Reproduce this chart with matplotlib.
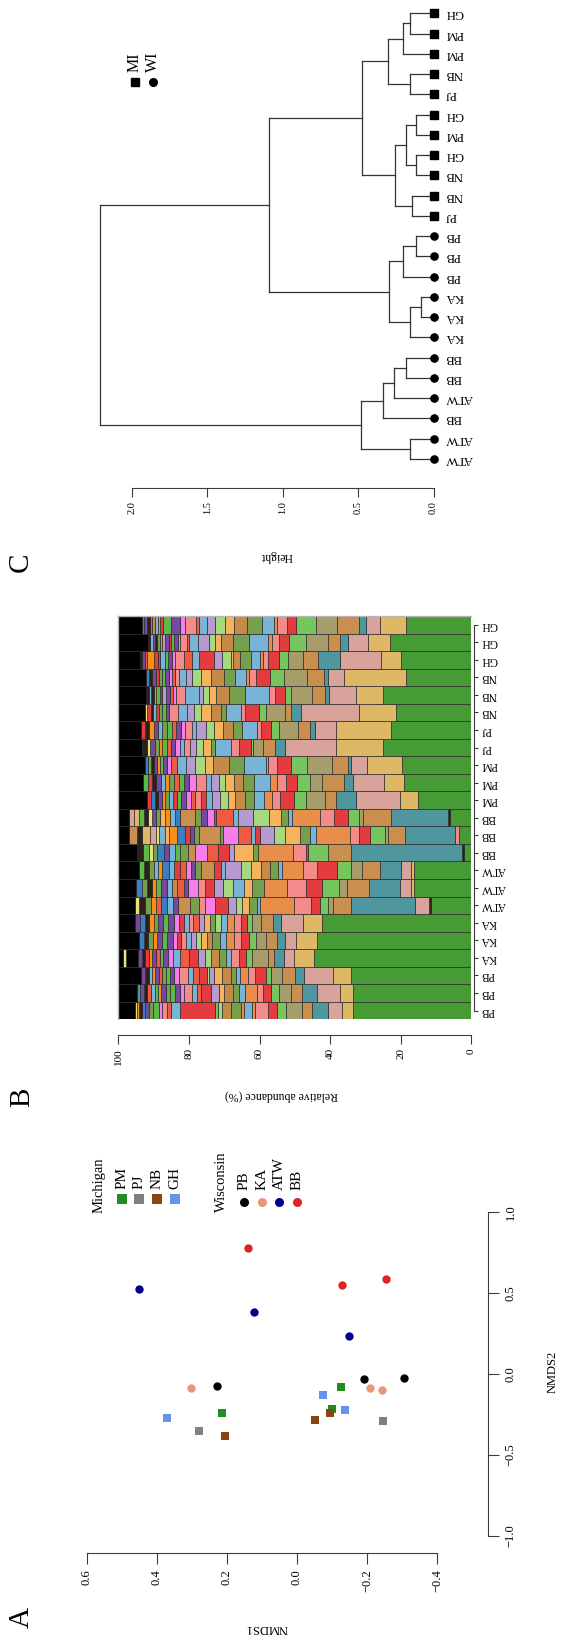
import matplotlib
matplotlib.use('Agg')
import matplotlib.pyplot as plt

plt.rcParams['font.family'] = ['Liberation Serif', 'DejaVu Serif']

# ---------------- data ----------------
# Panel A: NMDS ordination
site_names_mi = ['PM', 'PJ', 'NB', 'GH']
site_names_wi = ['PB', 'KA', 'ATW', 'BB']
site_colors = {'PM': '#228b22', 'PJ': '#808080', 'NB': '#8b4513', 'GH': '#6495ed',
               'PB': '#000000', 'KA': '#e9967a', 'ATW': '#00008b', 'BB': '#dc2424'}
nmds_site = ['PB', 'PB', 'PB', 'KA', 'KA', 'KA', 'ATW', 'ATW', 'ATW', 'BB', 'BB', 'BB',
             'PM', 'PM', 'PM', 'PJ', 'PJ', 'NB', 'NB', 'NB', 'GH', 'GH', 'GH']
nmds1 = [0.230, -0.191, -0.306, 0.302, -0.209, -0.243, 0.452, 0.123, -0.149,
         0.140, -0.128, -0.255, -0.126, 0.214, -0.099, 0.280, -0.245,
         0.207, -0.051, -0.094, 0.371, -0.073, -0.136]
nmds2 = [-0.072, -0.031, -0.023, -0.088, -0.088, -0.101, 0.524, 0.382, 0.236,
         0.778, 0.552, 0.589, -0.082, -0.240, -0.216, -0.353, -0.292,
         -0.380, -0.287, -0.242, -0.271, -0.131, -0.220]

# Panel B: relative abundance, bars from left (PB) to right (GH) of the original
bar_labels = ['PB', 'PB', 'PB', 'KA', 'KA', 'KA', 'ATW', 'ATW', 'ATW', 'BB', 'BB', 'BB',
              'PM', 'PM', 'PM', 'PJ', 'PJ', 'NB', 'NB', 'NB', 'GH', 'GH', 'GH']
taxon_colors = {'G': '#479b35', 'T': '#dfb865', 'R': '#d7a39b', 'Q': '#4f969f',
                'B': '#c88f4e', 'K': '#a69d6b', 'L': '#77c55f', 'r': '#e43c3e',
                's': '#f38b8a', 'o': '#e98e4a', 'b': '#77b4d8', 'v': '#77a04e',
                'n': '#c68a48', 'y': '#f7b25c', 'l': '#a6d880', 'p': '#b59bcf',
                'e': '#ec5b42', 'm': '#f77dea', 'u': '#7649a0', 'g': '#5db84a',
                'O': '#f98f17', 'd': '#3a80c0', 'x': '#2b2118', 'w': '#e9e27c',
                'k': '#000000'}
bar_taxa = [
    'G T R Q B K L r s o b o v n l L r b e s m g v u d x O w',
    'G T R Q B K L r s o b v n y p r e b s m u g v u O g b e x u Q',
    'G T R Q B K L r s o b v n y p l r e b s m u g v e u O b x u',
    'G T R Q B K L r s b v n l p r e b m u g e u O r x u k w',
    'G T R Q B K L r s o b v n y l p b s r m u g u O v x d',
    'G T R Q B K L r s o b l v y p e s b r m u g u v O x d u',
    'G x R Q B K L r s o b v y l p r m s v B u b d e O v x w',
    'G T R Q B K L r s o v y b l p r s m u e n b u g O x v d',
    'G T R Q B K L r s o b v n y l p b r B v u m e r b d O b v x g',
    'G x Q B L r s o v y p r e m B v g b u d v w g x',
    'G s Q B K L r s o b v y l p r b e m v B v u r d O y b w R T x B',
    'G x Q B K L r s o b v y l p b e r m u v B d b O y v u w x g T R',
    'G T R Q B K L r s o b v n y l p b r s e m u g r b v O u x d r',
    'G T R Q B K L r s o b v n y l p b s m u g e v O b u x r g',
    'G T R Q B K L r s o b v n y l p b e m u g O u x v d',
    'G T R Q B K L r s b v y l p s b m u e g O v u w x',
    'G T R Q B K L r s b v n y l p b s m u e g v b u O x r',
    'G T R Q B K L r s b v n y l p b s u g v r b x r w',
    'G T R Q B K L r s b v n y l p b s m e u p u g O x b x',
    'G T R Q B K L r s o b v n y l p b s e m u g v r u x d',
    'G T R Q B K L r s o b v n y l p r b e s m u g b d r O e u x',
    'G T R Q B K L r s o b v n y l p b e s m u g r u p O v x u b x',
    'G T R Q B K L r s o b v n y l p b e s m u g r O b n e x u d',
]
bar_values = [
    [33.5, 3.1, 4.0, 4.5, 3.0, 4.5, 2.4, 2.7, 3.6, 0.9, 2.2, 0.9, 2.9, 2.5, 1.1, 0.9, 9.7, 2.7,
     1.2, 1.3, 1.0, 1.6, 1.2, 1.0, 0.9, 0.8, 0.7, 0.6],
    [33.5, 3.6, 6.5, 4.5, 3.0, 3.5, 2.2, 2.1, 1.9, 3.4, 1.6, 1.8, 2.4, 1.6, 2.2, 2.7, 1.3, 1.4, 2.2,
     1.2, 1.4, 1.3, 1.1, 1.5, 0.8, 1.0, 1.1, 1.0, 0.9, 1.2, 0.8],
    [34.1, 5.0, 8.3, 2.5, 3.6, 3.3, 1.5, 3.0, 2.0, 2.2, 1.2, 1.3, 2.5, 2.4, 1.3, 0.8, 2.2, 1.6, 1.4,
     2.6, 1.4, 1.2, 1.1, 1.0, 0.9, 1.2, 0.8, 1.0, 0.9, 1.2],
    [44.7, 5.4, 2.9, 2.9, 1.8, 4.5, 1.6, 2.0, 2.2, 1.4, 2.0, 2.2, 1.8, 2.0, 2.7, 2.4, 2.1,
     1.2, 1.4, 1.1, 1.0, 1.2, 0.9, 1.1, 0.8, 1.0, 3.6, 0.9],
    [43.8, 5.8, 3.2, 2.2, 3.1, 2.9, 2.1, 2.0, 2.0, 2.3, 1.8, 2.2, 1.6, 1.5,
     1.4, 1.6, 1.3, 1.4, 1.2, 1.1, 1.8, 1.3, 1.4, 1.2, 1.3, 1.2, 1.5],
    [42.2, 5.6, 6.1, 2.4, 3.2, 2.7, 1.3, 1.8, 1.8, 2.0, 1.8, 1.6, 1.6, 1.5,
     1.6, 1.5, 1.4, 1.2, 1.5, 1.3, 1.8, 1.3, 1.6, 1.2, 1.3, 1.1, 1.4, 1.6],
    [11.3, 0.6, 4.1, 18.2, 5.1, 1.3, 2.3, 2.5, 4.9, 9.6, 0.9, 2.3, 1.8, 1.8, 2.2, 3.6, 2.9,
     1.6, 2.8, 3.4, 1.4, 1.6, 1.8, 1.4, 1.4, 1.6, 1.6, 1.4],
    [16.2, 0.8, 3.3, 8.7, 6.3, 2.2, 4.9, 4.5, 5.4, 6.3, 3.6, 2.2, 3.2, 2.7, 2.6,
     2.4, 2.0, 3.0, 1.2, 1.8, 1.6, 1.4, 1.5, 1.4, 1.2, 1.4, 1.6, 1.5],
    [16.2, 0.8, 3.0, 6.0, 5.0, 3.1, 3.9, 5.6, 4.2, 5.9, 1.0, 2.4, 2.4, 3.0, 2.8, 4.5, 1.1, 2.0,
     3.8, 1.5, 1.2, 1.5, 1.6, 1.8, 1.2, 2.0, 1.3, 1.2, 1.4, 1.2, 1.5],
    [2.2, 0.5, 31.3, 6.6, 5.6, 0.7, 3.6, 9.9, 1.4, 5.4, 1.5, 3.0, 3.3, 3.3,
     2.0, 2.2, 1.4, 1.6, 1.6, 1.8, 1.4, 1.0, 1.6, 1.9],
    [3.4, 1.2, 14.2, 4.8, 0.9, 4.2, 3.0, 2.8, 9.5, 1.8, 2.7, 4.4, 3.0, 4.0, 1.4, 1.2, 3.7, 4.1, 0.9, 5.8,
     1.5, 1.2, 1.4, 2.2, 2.4, 1.1, 1.6, 1.0, 1.6, 2.4, 1.2, 2.4],
    [6.1, 0.5, 16.1, 8.1, 1.1, 3.1, 3.9, 4.0, 7.9, 1.2, 2.0, 3.2, 4.5, 4.5, 1.4, 4.7, 0.6, 2.1, 1.5,
     1.7, 4.4, 1.4, 1.3, 1.6, 1.2, 1.3, 1.1, 1.0, 1.2, 1.4, 1.5, 1.5],
    [15.1, 5.2, 12.3, 5.6, 3.3, 5.4, 3.2, 4.2, 2.3, 2.0, 3.0, 2.4, 2.9, 2.0, 2.4, 2.1, 1.8,
     1.5, 1.6, 1.2, 1.3, 1.4, 1.2, 1.0, 1.1, 1.2, 1.0, 1.1, 0.9, 1.0, 1.3],
    [19.1, 5.7, 8.7, 2.7, 6.0, 3.4, 3.7, 3.3, 2.4, 2.1, 4.5, 3.1, 2.4, 2.7, 1.8, 2.0, 1.6, 2.7, 2.0,
     1.5, 1.4, 1.3, 1.4, 1.2, 1.3, 1.4, 1.1, 1.2, 1.3],
    [19.7, 9.9, 4.5, 0.7, 4.7, 7.0, 4.6, 3.9, 2.7, 0.6, 6.1, 4.3, 4.5, 2.2, 2.9, 2.5, 2.5, 1.8,
     1.0, 1.2, 0.9, 0.8, 1.0, 0.8, 0.9, 0.7],
    [24.9, 13.5, 14.4, 2.7, 3.5, 2.9, 0.6, 3.3, 2.2, 4.5, 1.3, 2.3, 1.8, 1.8,
     1.6, 1.2, 1.3, 1.4, 1.1, 1.2, 1.0, 1.2, 1.3, 0.8, 1.5],
    [22.7, 15.5, 6.0, 1.4, 3.6, 5.4, 2.2, 2.9, 1.0, 4.2, 2.7, 2.7, 2.6, 2.3, 2.7, 1.3,
     1.8, 1.2, 1.5, 1.2, 1.4, 1.3, 1.1, 1.3, 1.2, 1.1, 1.4],
    [21.2, 10.7, 16.4, 2.8, 1.8, 5.2, 2.0, 3.9, 1.1, 4.3, 1.5, 2.9, 2.9, 1.9, 2.0, 2.5, 2.4,
     1.0, 1.1, 0.8, 0.9, 0.8, 0.7, 1.0, 0.6],
    [24.9, 7.7, 7.8, 1.1, 3.6, 5.9, 1.9, 2.6, 1.7, 7.0, 4.5, 3.6, 2.0, 1.6, 1.3, 3.8, 2.7,
     0.9, 0.8, 1.2, 0.9, 0.8, 0.9, 0.7, 0.7, 0.8, 0.8],
    [18.5, 17.7, 4.4, 1.2, 4.7, 6.7, 3.9, 3.9, 2.1, 0.6, 3.2, 3.1, 3.8, 2.7, 2.7, 1.6, 2.0,
     1.2, 0.8, 0.9, 1.0, 1.0, 0.9, 0.8, 1.0, 0.8, 0.9],
    [20.0, 5.6, 11.7, 6.0, 4.3, 4.4, 2.6, 3.1, 1.3, 0.9, 2.6, 3.0, 2.1, 0.6, 2.5, 2.2, 4.1, 2.2, 2.3,
     2.5, 0.9, 1.0, 1.0, 1.2, 0.7, 1.0, 2.0, 0.6, 0.8, 0.6],
    [23.0, 6.4, 5.4, 2.3, 3.5, 6.3, 4.7, 2.8, 2.2, 1.1, 5.4, 4.5, 3.3, 1.6, 1.8, 3.0, 2.6, 0.5, 2.0,
     0.7, 1.1, 0.9, 0.6, 1.0, 0.8, 0.6, 0.9, 0.5, 0.8, 0.7, 0.6],
    [18.5, 7.5, 3.9, 2.0, 6.1, 6.0, 5.6, 2.7, 2.7, 0.9, 3.4, 4.2, 3.6, 2.7, 2.7, 2.5, 2.2, 0.7, 3.1,
     1.4, 2.7, 2.2, 0.8, 0.7, 0.9, 0.8, 0.6, 0.7, 0.8, 0.6],
]

# Panel C: dendrogram, leaves listed from the top of the picture downwards
leaf_labels = ['GH', 'PM', 'PM', 'NB', 'PJ', 'GH', 'PM', 'GH', 'NB', 'NB', 'PJ',
               'PB', 'PB', 'PB', 'KA', 'KA', 'KA', 'BB', 'BB', 'ATW', 'BB', 'ATW', 'ATW']
leaf_state = ['MI'] * 11 + ['WI'] * 12
# merges like R's hclust: negative = leaf (1-based), positive = earlier merge (1-based)
merge_a = [-1, 1, -4, 2, -6, -8, 5, -10, 7, 4, -12, 11, -15, 13, 12, 10, -18, 17, 18, -22, 19, 16]
merge_b = [-2, -3, -5, 3, -7, -9, 6, -11, 8, 9, -13, -14, -16, -17, 14, 15, -19, -20, -21, -23, 20, 21]
merge_h = [0.156, 0.204, 0.156, 0.300, 0.120, 0.120, 0.180, 0.144, 0.257, 0.476,
           0.120, 0.204, 0.084, 0.156, 0.296, 1.089, 0.185, 0.264, 0.337, 0.156, 0.481, 2.21]

# ---------------- figure ----------------
W, H = 575, 1642
fig = plt.figure(figsize=(W / 100, H / 100), dpi=100)
PT = 0.72  # points per pixel at dpi 100
axis_col = '#3a3a3a'


def px_axes(x0, y0, x1, y1):
    return fig.add_axes([x0 / W, 1 - y1 / H, (x1 - x0) / W, (y1 - y0) / H])


# ---- panel C: dendrogram ----
axc = px_axes(132, 13.3, 433.6, 459)
axc.set_xlim(2.0, 0.0)
axc.set_ylim(22, 0)
pos = []
for a, b, h in zip(merge_a, merge_b, merge_h):
    kids = []
    for c in (a, b):
        if c < 0:
            kids.append((-c - 1, 0.0))
        else:
            kids.append(pos[c - 1])
    (ya, ha), (yb, hb) = kids
    axc.plot([h, h], [ya, yb], color='#333333', lw=0.9, clip_on=False)
    axc.plot([ha, h], [ya, ya], color='#333333', lw=0.9, clip_on=False)
    axc.plot([hb, h], [yb, yb], color='#333333', lw=0.9, clip_on=False)
    pos.append(((ya + yb) / 2, h))
for i, st in enumerate(leaf_state):
    axc.plot(0, i, marker='s' if st == 'MI' else 'o', color='black', ms=5.2, clip_on=False)
for s in ['left', 'top', 'right']:
    axc.spines[s].set_visible(False)
axc.spines['bottom'].set_position(('outward', 28.7 * PT))
axc.spines['bottom'].set_bounds(0, 2)
axc.spines['bottom'].set_color(axis_col)
axc.set_xticks([0, 0.5, 1.0, 1.5, 2.0])
axc.set_xticklabels(['0.0', '0.5', '1.0', '1.5', '2.0'])
axc.tick_params(axis='x', length=9 * PT, width=0.8, color=axis_col, labelsize=7.5,
                labelrotation=90, pad=3)
axc.set_yticks([])
axc.patch.set_visible(False)

# ---- panel B: stacked bars ----
axb = px_axes(118.3, 616, 471.3, 1019.3)
axb.set_xlim(100, 0)
axb.set_ylim(-0.5, 22.5)
for i, (codes, vals) in enumerate(zip(bar_taxa, bar_values)):
    left = 0.0
    for c, v in zip(codes.split(), vals):
        axb.barh(i, v, left=left, height=1.0, color=taxon_colors[c],
                 edgecolor='#2a2a2a', linewidth=0.5)
        left += v
    axb.barh(i, 100 - left, left=left, height=1.0, color='black',
             edgecolor='#2a2a2a', linewidth=0.5)
for s in ['left', 'top']:
    axb.spines[s].set_color('#b5b5b5')
    axb.spines[s].set_linewidth(1.0)
axb.spines['bottom'].set_position(('outward', 15.7 * PT))
axb.spines['bottom'].set_bounds(0, 100)
axb.spines['bottom'].set_color(axis_col)
axb.spines['right'].set_position(('outward', 3 * PT))
axb.spines['right'].set_bounds(0, 22)
axb.spines['right'].set_color(axis_col)
axb.set_xticks([0, 20, 40, 60, 80, 100])
axb.tick_params(axis='x', length=9 * PT, width=0.8, color=axis_col, labelsize=8,
                labelrotation=90, pad=3)
axb.yaxis.tick_right()
axb.set_yticks(range(len(bar_labels)))
axb.set_yticklabels(bar_labels)
axb.tick_params(axis='y', length=3.7 * PT, width=0.8, color=axis_col, labelsize=8.3,
                labelrotation=180, pad=2)
for lab in axb.get_yticklabels():
    lab.set_va('center')

# ---- panel A: NMDS ----
axa = px_axes(87, 1212, 437, 1536)
axa.set_xlim(0.6, -0.4)
axa.set_ylim(-1, 1)
for s, x, y in zip(nmds_site, nmds1, nmds2):
    mk = 's' if s in site_names_mi else 'o'
    axa.plot(x, y, marker=mk, color=site_colors[s], ms=6, mew=0, clip_on=False)
for s in ['left', 'top']:
    axa.spines[s].set_visible(False)
axa.spines['bottom'].set_position(('outward', 17 * PT))
axa.spines['bottom'].set_bounds(-0.4, 0.6)
axa.spines['right'].set_position(('outward', 51 * PT))
axa.spines['right'].set_bounds(-1, 1)
for s in ['bottom', 'right']:
    axa.spines[s].set_color(axis_col)
axa.set_xticks([0.6, 0.4, 0.2, 0.0, -0.2, -0.4])
axa.set_xticklabels(['0.6', '0.4', '0.2', '0.0', '\u22120.2', '\u22120.4'])
axa.yaxis.tick_right()
axa.set_yticks([-1.0, -0.5, 0.0, 0.5, 1.0])
axa.set_yticklabels(['\u22121.0', '\u22120.5', '0.0', '0.5', '1.0'])
axa.tick_params(axis='both', length=11 * PT, width=0.8, color=axis_col, labelsize=9,
                labelrotation=90, pad=4)
for lab in axa.get_yticklabels():
    lab.set_va('center')
axa.patch.set_visible(False)

# ---- free text and legends (pixel coordinates) ----
ov = fig.add_axes([0, 0, 1, 1])
ov.set_xlim(0, W)
ov.set_ylim(H, 0)
ov.axis('off')
ov.patch.set_visible(False)

for letter, (x, y) in zip(['A', 'B', 'C'], [(22, 1617), (22, 1097), (21, 562)]):
    ov.text(x, y, letter, rotation=90, fontsize=21, ha='center', va='center')

ov.text(267, 1628, 'NMDS1', rotation=180, fontsize=9, ha='center', va='center')
ov.text(553, 1372, 'NMDS2', rotation=90, fontsize=9, ha='center', va='center')
ov.text(281, 1096, 'Relative abundance (%)', rotation=180, fontsize=8.5, ha='center', va='center')
ov.text(277, 556, 'Height', rotation=180, fontsize=8.5, ha='center', va='center')

leaf_step = (459 - 13.3) / 22
for i, lab in enumerate(leaf_labels):
    ov.text(445, 13.3 + i * leaf_step, lab, rotation=180, fontsize=9.2, ha='left', va='center')

# MI / WI legend
ov.plot(134.5, 82, marker='s', color='black', ms=5.5)
ov.plot(152.5, 82, marker='o', color='black', ms=5.5)
ov.text(134.5, 72, 'MI', rotation=90, fontsize=11.5, ha='center', va='bottom')
ov.text(152.5, 72, 'WI', rotation=90, fontsize=11.5, ha='center', va='bottom')

# site legends of panel A
ov.text(99, 1185, 'Michigan', rotation=90, fontsize=10.5, ha='center', va='center')
for x, s in zip([121.7, 139.3, 157.0, 174.5], site_names_mi):
    ov.plot(x, 1199, marker='s', color=site_colors[s], ms=6.5, mew=0)
    ov.text(x, 1189, s, rotation=90, fontsize=11, ha='center', va='bottom')
ov.text(221.9, 1182, 'Wisconsin', rotation=90, fontsize=10.5, ha='center', va='center')
for x, s in zip([243.9, 261.8, 279.4, 297.0], site_names_wi):
    ov.plot(x, 1202, marker='o', color=site_colors[s], ms=6.5, mew=0)
    ov.text(x, 1190, s, rotation=90, fontsize=11, ha='center', va='bottom')

fig.savefig('out.png', dpi=100)
